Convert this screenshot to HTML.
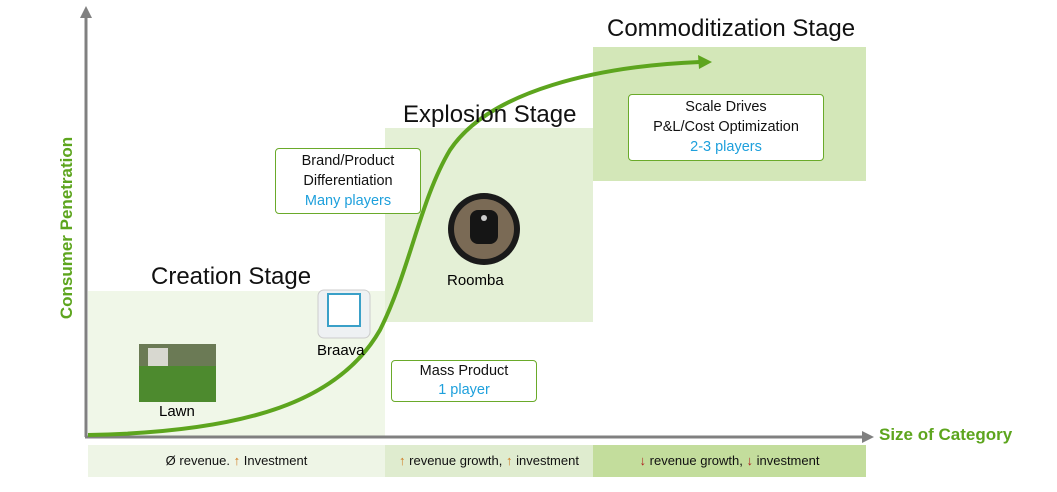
<!DOCTYPE html><html><head><style>
body{margin:0;width:1057px;height:492px;background:#fff;font-family:"Liberation Sans",sans-serif;position:relative;overflow:hidden}
.a{position:absolute}
.box{position:absolute;border:1.5px solid #6aaa2a;border-radius:4px;background:#fff;text-align:center;font-size:14.5px;line-height:20px;color:#111;box-sizing:border-box;padding-top:2px}
.bl{color:#1ea0dc}
.t{position:absolute;font-size:24px;color:#111}
.bt{position:absolute;font-size:13px;text-align:center;line-height:32px;color:#111}
.u{color:#d07a20}.d{color:#b02020}
</style></head><body>
<div class="a" style="left:88px;top:291px;width:297px;height:146px;background:#f0f7e8"></div>
<div class="a" style="left:385px;top:128px;width:208px;height:194px;background:#e4f0d6"></div>
<div class="a" style="left:593px;top:47px;width:273px;height:134px;background:#d3e7b8"></div>
<div class="bt" style="left:88px;top:445px;width:297px;height:32px;background:#eef5e6">Ø revenue. <span class="u">↑</span> Investment</div>
<div class="bt" style="left:385px;top:445px;width:208px;height:32px;background:#dfeccf"><span class="u">↑</span> revenue growth, <span class="u">↑</span> investment</div>
<div class="bt" style="left:593px;top:445px;width:273px;height:32px;background:#c3dd9c"><span class="d">↓</span> revenue growth, <span class="d">↓</span> investment</div>
<svg class="a" style="left:0;top:0" width="1057" height="492">
<line x1="86" y1="437" x2="86" y2="16" stroke="#808080" stroke-width="3"/>
<polygon points="86,6 80,18 92,18" fill="#808080"/>
<line x1="85" y1="437" x2="862" y2="437" stroke="#808080" stroke-width="3"/>
<polygon points="874,437 862,431 862,443" fill="#808080"/>
<path d="M88,435 C250,432 340,400 380,330 C410,270 420,200 450,150 C490,90 600,66 700,62" fill="none" stroke="#5da51e" stroke-width="4"/>
<polygon points="712,62 698,55 699,69" fill="#5da51e"/>
<circle cx="484" cy="229" r="36" fill="#1a1a1a"/><circle cx="484" cy="229" r="30" fill="#7a6a55"/>
<rect x="470" y="210" width="28" height="34" rx="8" fill="#151515"/><circle cx="484" cy="218" r="3" fill="#ccc"/>
<rect x="318" y="290" width="52" height="48" rx="6" fill="#eef1f3" stroke="#ccc"/><rect x="328" y="294" width="32" height="32" fill="#fff" stroke="#3aa0c8" stroke-width="2"/>
<rect x="139" y="344" width="77" height="58" fill="#4d8a2e"/><rect x="139" y="344" width="77" height="22" fill="#6b7a55"/><rect x="148" y="348" width="20" height="18" fill="#d8d8d0"/>
</svg>
<div class="t" style="left:151px;top:263px">Creation Stage</div>
<div class="t" style="left:403px;top:101px">Explosion Stage</div>
<div class="t" style="left:607px;top:15px">Commoditization Stage</div>
<div class="a" style="left:447px;top:272px;font-size:15px">Roomba</div>
<div class="a" style="left:317px;top:342px;font-size:15px">Braava</div>
<div class="a" style="left:159px;top:403px;font-size:15px">Lawn</div>
<div class="box" style="left:275px;top:148px;width:146px;height:66px">Brand/Product<br>Differentiation<br><span class="bl">Many players</span></div>
<div class="box" style="left:628px;top:94px;width:196px;height:67px">Scale Drives<br>P&amp;L/Cost Optimization<br><span class="bl">2-3 players</span></div>
<div class="box" style="left:391px;top:360px;width:146px;height:42px;line-height:19px;padding-top:1px">Mass Product<br><span class="bl">1 player</span></div>
<div class="a" style="left:879px;top:425px;font-size:17px;font-weight:bold;color:#5da51e">Size of Category</div>
<div class="a" style="left:67px;top:228px;font-size:17px;font-weight:bold;color:#5da51e;transform:translate(-50%,-50%) rotate(-90deg);white-space:nowrap">Consumer Penetration</div>
</body></html>
